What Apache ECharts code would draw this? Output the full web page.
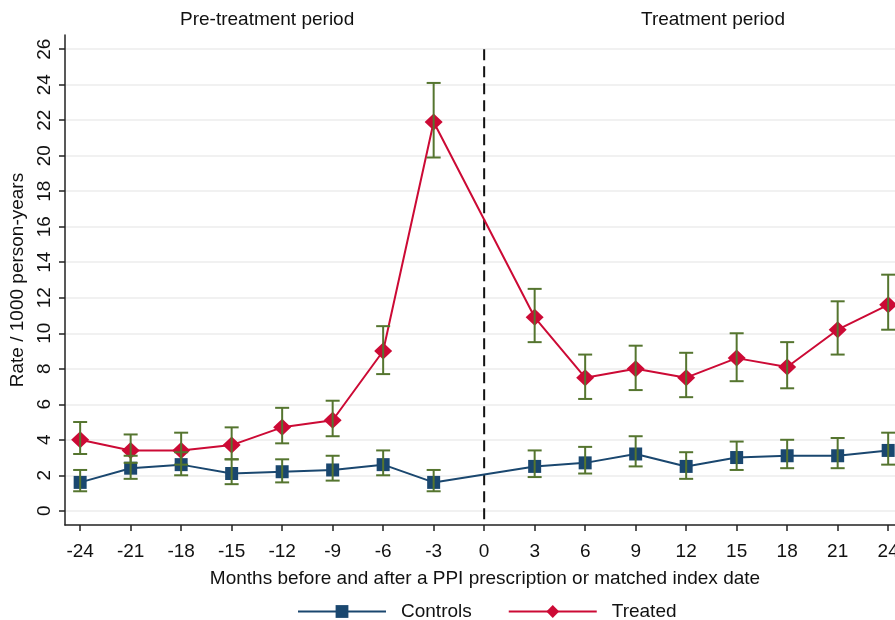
<!DOCTYPE html>
<html>
<head>
<meta charset="utf-8">
<script src="https://cdn.jsdelivr.net/npm/echarts@6/dist/echarts.min.js"></script>
<style>
html,body{margin:0;padding:0;background:#fff;}
#chart{width:895px;height:620px;}
</style>
</head>
<body>
<div id="chart"></div>
<script>
const months = [-24,-21,-18,-15,-12,-9,-6,-3,3,6,9,12,15,18,21,24];
const xTicks = [-24,-21,-18,-15,-12,-9,-6,-3,0,3,6,9,12,15,18,21,24];
const yTicks = [0,2,4,6,8,10,12,14,16,18,20,22,24,26];
const refLine = [[0, 26, -0.8]];

const treatedRate = [4.0,3.4,3.4,3.7,4.7,5.1,9.0,21.9,10.9,7.5,8.0,7.5,8.6,8.1,10.2,11.6];
const treatedLow  = [3.2,2.7,2.6,2.9,3.8,4.2,7.7,19.9,9.5,6.3,6.8,6.4,7.3,6.9,8.8,10.2];
const treatedHigh = [5.0,4.3,4.4,4.7,5.8,6.2,10.4,24.1,12.5,8.8,9.3,8.9,10.0,9.5,11.8,13.3];

const controlRate = [1.6,2.4,2.6,2.1,2.2,2.3,2.6,1.6,2.5,2.7,3.2,2.5,3.0,3.1,3.1,3.4];
const controlLow  = [1.1,1.8,2.0,1.5,1.6,1.7,2.0,1.1,1.9,2.1,2.5,1.8,2.3,2.4,2.4,2.6];
const controlHigh = [2.3,3.1,3.3,2.9,2.9,3.1,3.4,2.3,3.4,3.6,4.2,3.3,3.9,4.0,4.1,4.4];

const NAVY = '#1a476f', RED = '#cc0a35', GREEN = '#55752f';
const FONT = '"Liberation Sans", Arial, sans-serif';
const FS = 19;

function pairs(vals){ return months.map((m,i)=>[m, vals[i]]); }
function ciData(lo, hi){ return months.map((m,i)=>[m, lo[i], hi[i]]); }

function errRender(params, api){
  const x = api.value(0);
  const lo = api.coord([x, api.value(1)]);
  const hi = api.coord([x, api.value(2)]);
  const cap = 7;
  const style = {stroke: GREEN, lineWidth: 2, fill: null};
  return {
    type: 'group',
    children: [
      {type:'line', shape:{x1:lo[0], y1:lo[1], x2:hi[0], y2:hi[1]}, style: style},
      {type:'line', shape:{x1:lo[0]-cap, y1:lo[1], x2:lo[0]+cap, y2:lo[1]}, style: style},
      {type:'line', shape:{x1:hi[0]-cap, y1:hi[1], x2:hi[0]+cap, y2:hi[1]}, style: style}
    ]
  };
}

function refRender(params, api){
  const x = api.value(0);
  const a = api.coord([x, api.value(1)]);
  const b = api.coord([x, api.value(2)]);
  return {
    type: 'line',
    shape: {x1: a[0], y1: a[1], x2: b[0], y2: b[1]},
    style: {stroke: '#111', lineWidth: 2, lineDash: [11, 6], fill: null}
  };
}

const chart = echarts.init(document.getElementById('chart'), null, {renderer:'canvas'});
chart.setOption({
  backgroundColor: '#fff',
  animation: false,
  textStyle: {fontFamily: FONT},
  grid: {left: 65, top: 35, height: 490, width: 840, containLabel: false, outerBoundsMode: 'none'},
  graphic: [
    {type:'text', left: 180, top: 10, style:{text:'Pre-treatment period', font: FS + 'px ' + FONT, fill:'#111'}},
    {type:'text', left: 641, top: 10, style:{text:'Treatment period', font: FS + 'px ' + FONT, fill:'#111'}}
  ],
  xAxis: {
    type: 'value', min: -24.9, max: 25,
    name: 'Months before and after a PPI prescription or matched index date',
    nameLocation: 'middle', nameGap: 44,
    nameTextStyle: {fontSize: FS, color: '#111', fontFamily: FONT},
    axisLine: {show: true, onZero: false, lineStyle: {color: '#222', width: 1.5}},
    axisTick: {show: true, length: 6, lineStyle: {color: '#222', width: 1.5}, customValues: xTicks},
    axisLabel: {fontSize: FS, color: '#111', margin: 17, customValues: xTicks, formatter: v => String(v)},
    splitLine: {show: false}
  },
  yAxis: {
    type: 'value', min: -0.8, max: 26.8,
    name: 'Rate / 1000 person-years',
    nameLocation: 'middle', nameGap: 36, nameRotate: 90,
    nameTextStyle: {fontSize: FS, color: '#111', fontFamily: FONT},
    axisLine: {show: true, onZero: false, lineStyle: {color: '#222', width: 1.5}},
    axisTick: {show: true, length: 6, lineStyle: {color: '#222', width: 1.5}, customValues: yTicks},
    axisLabel: {fontSize: FS, color: '#111', rotate: 90, margin: 11, customValues: yTicks, formatter: v => String(v)},
    splitLine: {show: true, lineStyle: {color: '#ececec', width: 1.5}}
  },
  legend: {
    top: 597, left: 292,
    itemWidth: 88, itemHeight: 16, itemGap: 36,
    textStyle: {fontSize: FS, color: '#111', fontFamily: FONT, padding: [0,0,0,10]},
    data: ['Controls', 'Treated']
  },
  series: [
    {
      name: 'ref', type: 'custom', renderItem: refRender, data: refLine,
      encode: {x: 0, y: [1,2]}, silent: true, z: 2
    },
    {
      name: 'Controls', type: 'line', data: pairs(controlRate),
      symbol: 'rect', symbolSize: 13,
      lineStyle: {color: NAVY, width: 2}, itemStyle: {color: NAVY},
      z: 3
    },
    {
      name: 'Treated', type: 'line', data: pairs(treatedRate),
      symbol: 'diamond', symbolSize: [18, 17],
      lineStyle: {color: RED, width: 2}, itemStyle: {color: RED},
      z: 3
    },
    {
      name: 'ci-controls', type: 'custom', renderItem: errRender,
      data: ciData(controlLow, controlHigh), encode: {x: 0, y: [1,2]}, z: 5, silent: true
    },
    {
      name: 'ci-treated', type: 'custom', renderItem: errRender,
      data: ciData(treatedLow, treatedHigh), encode: {x: 0, y: [1,2]}, z: 5, silent: true
    }
  ]
});
</script>
</body>
</html>
